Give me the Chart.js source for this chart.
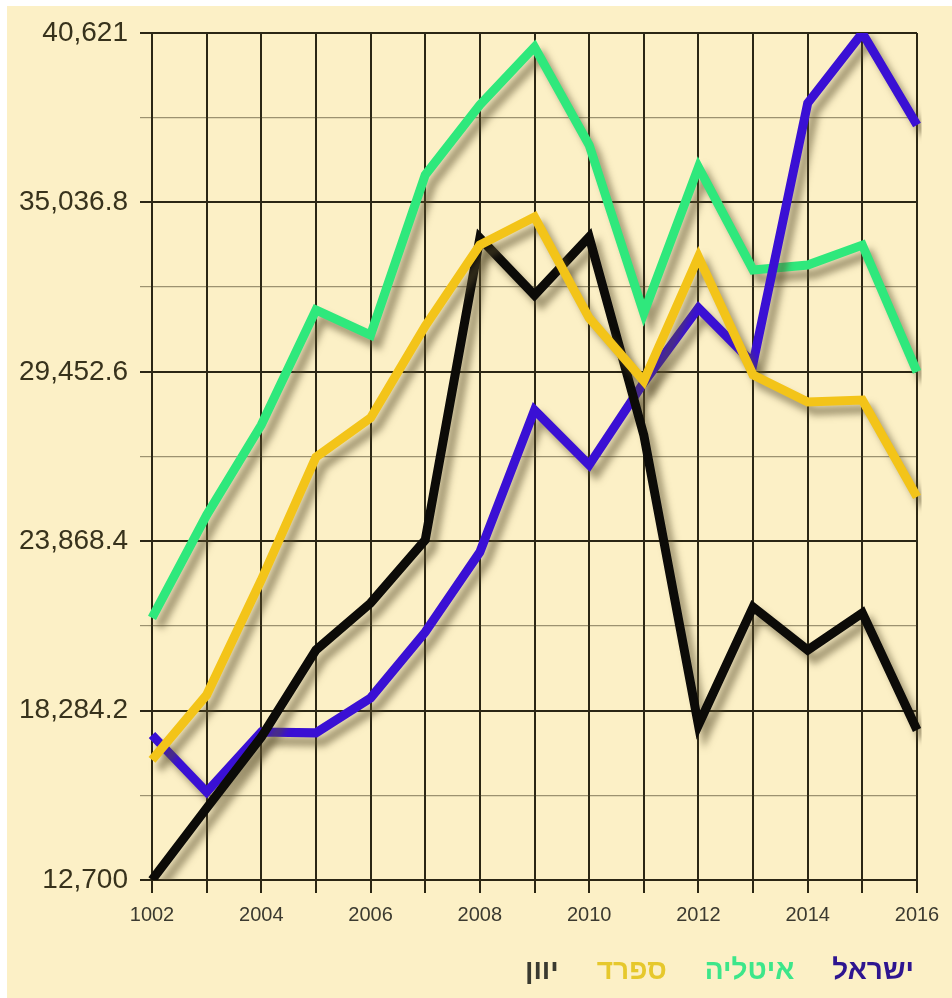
<!DOCTYPE html>
<html>
<head>
<meta charset="utf-8">
<script src="https://cdn.jsdelivr.net/npm/chart.js@4"></script>
<style>
  html, body { margin: 0; padding: 0; background: #fff; }
  #wrap { width: 952px; height: 998px; }
</style>
</head>
<body>
<div id="wrap"><canvas id="chart" width="952" height="998"></canvas></div>
<script>
const years = ['1002', '2003', '2004', '2005', '2006', '2007', '2008', '2009',
  '2010', '2011', '2012', '2013', '2014', '2015', '2016'];

const israel = [17480, 15600, 17580, 17550, 18700, 20875, 23510, 28190,
  26380, 29100, 31555, 29740, 38310, 40621, 37590];
const italy = [21340, 24730, 27700, 31490, 30665, 35940, 38250, 40160,
  36930, 31390, 36200, 32810, 32970, 33630, 29450];
const spain = [16660, 18800, 22590, 26640, 27930, 30960, 33630, 34555,
  31225, 29150, 33240, 29350, 28460, 28520, 25330];
const greece = [12700, 15070, 17410, 20280, 21830, 23910, 33860, 31980,
  33900, 27370, 17810, 21700, 20280, 21500, 17645];

const yTicks = [12700, 15492.1, 18284.2, 21076.3, 23868.4, 26660.5,
  29452.6, 32244.7, 35036.8, 37828.9, 40621];
const yLabels = [12700, 18284.2, 23868.4, 29452.6, 35036.8, 40621];

const names = ['ישראל', 'איטליה', 'ספרד', 'יוון'];
const lineColors = ['#3a10d4', '#2fe87c', '#f3c419', '#0c0b08'];
const legendColors = ['#2e1590', '#3de68a', '#e6c82c', '#3a3a30'];

const gridDark = '#2b2614';

// cream page background, leaving a thin white edge at top and left
const paper = {
  id: 'paper',
  beforeDraw(chart) {
    const ctx = chart.ctx;
    ctx.save();
    ctx.fillStyle = '#fcf0c6';
    ctx.fillRect(7, 6, chart.width - 7, chart.height - 6);
    ctx.restore();
  }
};

// soft drop shadow under the lines
const shadow = {
  id: 'shadow',
  beforeDatasetsDraw(chart) {
    const ctx = chart.ctx;
    ctx.save();
    ctx.shadowColor = 'rgba(90,78,45,0.55)';
    ctx.shadowBlur = 7;
    ctx.shadowOffsetX = 7;
    ctx.shadowOffsetY = 9;
  },
  afterDatasetsDraw(chart) {
    chart.ctx.restore();
  }
};

const series = [israel, italy, spain, greece];
const drawOrder = [2, 3, 0, 1];

new Chart(document.getElementById('chart'), {
  type: 'line',
  data: {
    labels: years,
    datasets: series.map((d, i) => ({
      label: names[i],
      data: d,
      borderColor: lineColors[i],
      borderWidth: 9,
      pointRadius: 0,
      tension: 0,
      order: drawOrder[i]
    }))
  },
  options: {
    responsive: false,
    animation: false,
    layout: { padding: { top: 33, right: 0, bottom: 3, left: 0 } },
    plugins: {
      tooltip: { enabled: false },
      legend: {
        position: 'bottom',
        align: 'start',
        rtl: true,
        labels: {
          boxWidth: 0,
          boxHeight: 0,
          padding: 24,
          font: { family: 'Liberation Sans, Arial', size: 28, weight: 'bold' },
          generateLabels: chart => chart.data.datasets.map((ds, i) => ({
            text: ds.label,
            fontColor: legendColors[i],
            fillStyle: 'transparent',
            strokeStyle: 'transparent',
            lineWidth: 0,
            hidden: false,
            datasetIndex: i
          }))
        }
      }
    },
    scales: {
      x: {
        offset: false,
        grid: { color: gridDark, lineWidth: 2, tickLength: 13 },
        border: { color: gridDark, width: 2 },
        ticks: {
          autoSkip: false,
          maxRotation: 0,
          padding: 10,
          color: '#3b3a30',
          font: { family: 'Liberation Sans, Arial', size: 20 },
          callback: (v, i) => (i % 2 === 0 ? years[i] : '')
        },
        afterFit: s => { s.height = 53; }
      },
      y: {
        min: 12700,
        max: 40621,
        afterBuildTicks: s => { s.ticks = yTicks.map(v => ({ value: v })); },
        afterFit: s => { s.width = 152; },
        grid: {
          color: c => (yLabels.includes(c.tick.value) ? gridDark : 'rgba(60,52,25,0.5)'),
          lineWidth: c => (yLabels.includes(c.tick.value) ? 2 : 1.2),
          tickLength: 12
        },
        border: { color: gridDark, width: 2 },
        ticks: {
          padding: 12,
          color: '#37321c',
          font: { family: 'Liberation Sans, Arial', size: 28 },
          callback: v => (yLabels.includes(v)
            ? v.toLocaleString('en-US', { maximumFractionDigits: 1 }) : '')
        }
      },
      pad: {
        position: 'right',
        display: true,
        grid: { display: false, drawOnChartArea: false },
        border: { display: false },
        ticks: { display: false },
        afterFit: s => { s.width = 35; }
      }
    }
  },
  plugins: [paper, shadow]
});
</script>
</body>
</html>
